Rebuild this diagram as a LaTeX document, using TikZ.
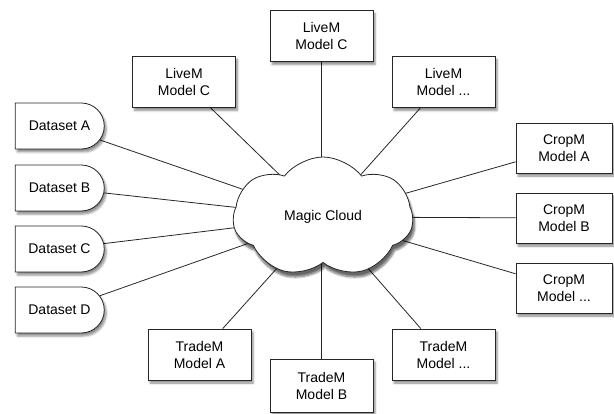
\documentclass[tikz,border=0pt]{standalone}
\usepackage{fontspec}
\setmainfont{Liberation Sans}
\usetikzlibrary{shapes.symbols,shapes.misc,shadows.blur}
\pgfdeclarelayer{background}
\pgfsetlayers{background,main}
\begin{document}
\begin{tikzpicture}[x=1pt,y=-1pt,
  font=\fontsize{14}{17}\selectfont,
  model/.style={draw=black!85, line width=0.8pt, fill=white, rectangle,
    minimum width=103pt, minimum height=51pt, align=center, inner sep=2pt,
    blur shadow={shadow xshift=2pt, shadow yshift=-3pt, shadow blur steps=5, shadow opacity=45}},
  dataset/.style={draw=black!85, line width=0.8pt, fill=white, rounded rectangle,
    rounded rectangle west arc=none, rounded rectangle arc length=180,
    minimum width=93pt, minimum height=46pt, inner sep=2pt,
    blur shadow={shadow xshift=2pt, shadow yshift=-3pt, shadow blur steps=5, shadow opacity=45}},
  link/.style={draw=black!85, line width=0.8pt}]
\useasboundingbox (0,0) rectangle (614,414);

% central cloud
\node[cloud, cloud puffs=7, cloud puff arc=105, aspect=1.5,
  draw=black!85, line width=0.8pt, fill=white,
  minimum width=180pt, minimum height=120pt, inner sep=0pt,
  blur shadow={shadow xshift=2pt, shadow yshift=-5pt, shadow blur steps=8, shadow opacity=60}]
  (cloud) at (323,217) {Magic Cloud};

% LiveM models
\node[model] (liveL) at (184,82) {LiveM\\Model C};
\node[model] (liveT) at (321.5,36) {LiveM\\Model C};
\node[model] (liveR) at (443.5,82) {LiveM\\Model ...};

% datasets
\node[dataset] (dsA) at (59.5,126) {Dataset A};
\node[dataset] (dsB) at (59.5,188) {Dataset B};
\node[dataset] (dsC) at (59.5,249) {Dataset C};
\node[dataset] (dsD) at (59.5,310) {Dataset D};

% CropM models
\node[model, minimum width=96pt, minimum height=50pt] (cropA) at (564,148) {CropM\\Model A};
\node[model, minimum width=96pt, minimum height=50pt] (cropB) at (564,218) {CropM\\Model B};
\node[model, minimum width=96pt, minimum height=50pt] (cropC) at (564,288) {CropM\\Model ...};

% TradeM models
\node[model] (tradeA) at (199.5,354.5) {TradeM\\Model A};
\node[model, minimum height=53pt] (tradeB) at (321.5,385.5) {TradeM\\Model B};
\node[model] (tradeC) at (443.5,354.5) {TradeM\\Model ...};

% connectors run behind the cloud
\begin{pgfonlayer}{background}
  \foreach \n in {liveL,liveR,dsA,dsB,dsC,dsD,cropA,cropB,cropC,tradeA,tradeC}
    \draw[link] (\n) -- (cloud.center);
  \draw[link] (liveT.south) -- (liveT.south |- cloud.center);
  \draw[link] (tradeB.north) -- (tradeB.north |- cloud.center);
\end{pgfonlayer}
\end{tikzpicture}
\end{document}
